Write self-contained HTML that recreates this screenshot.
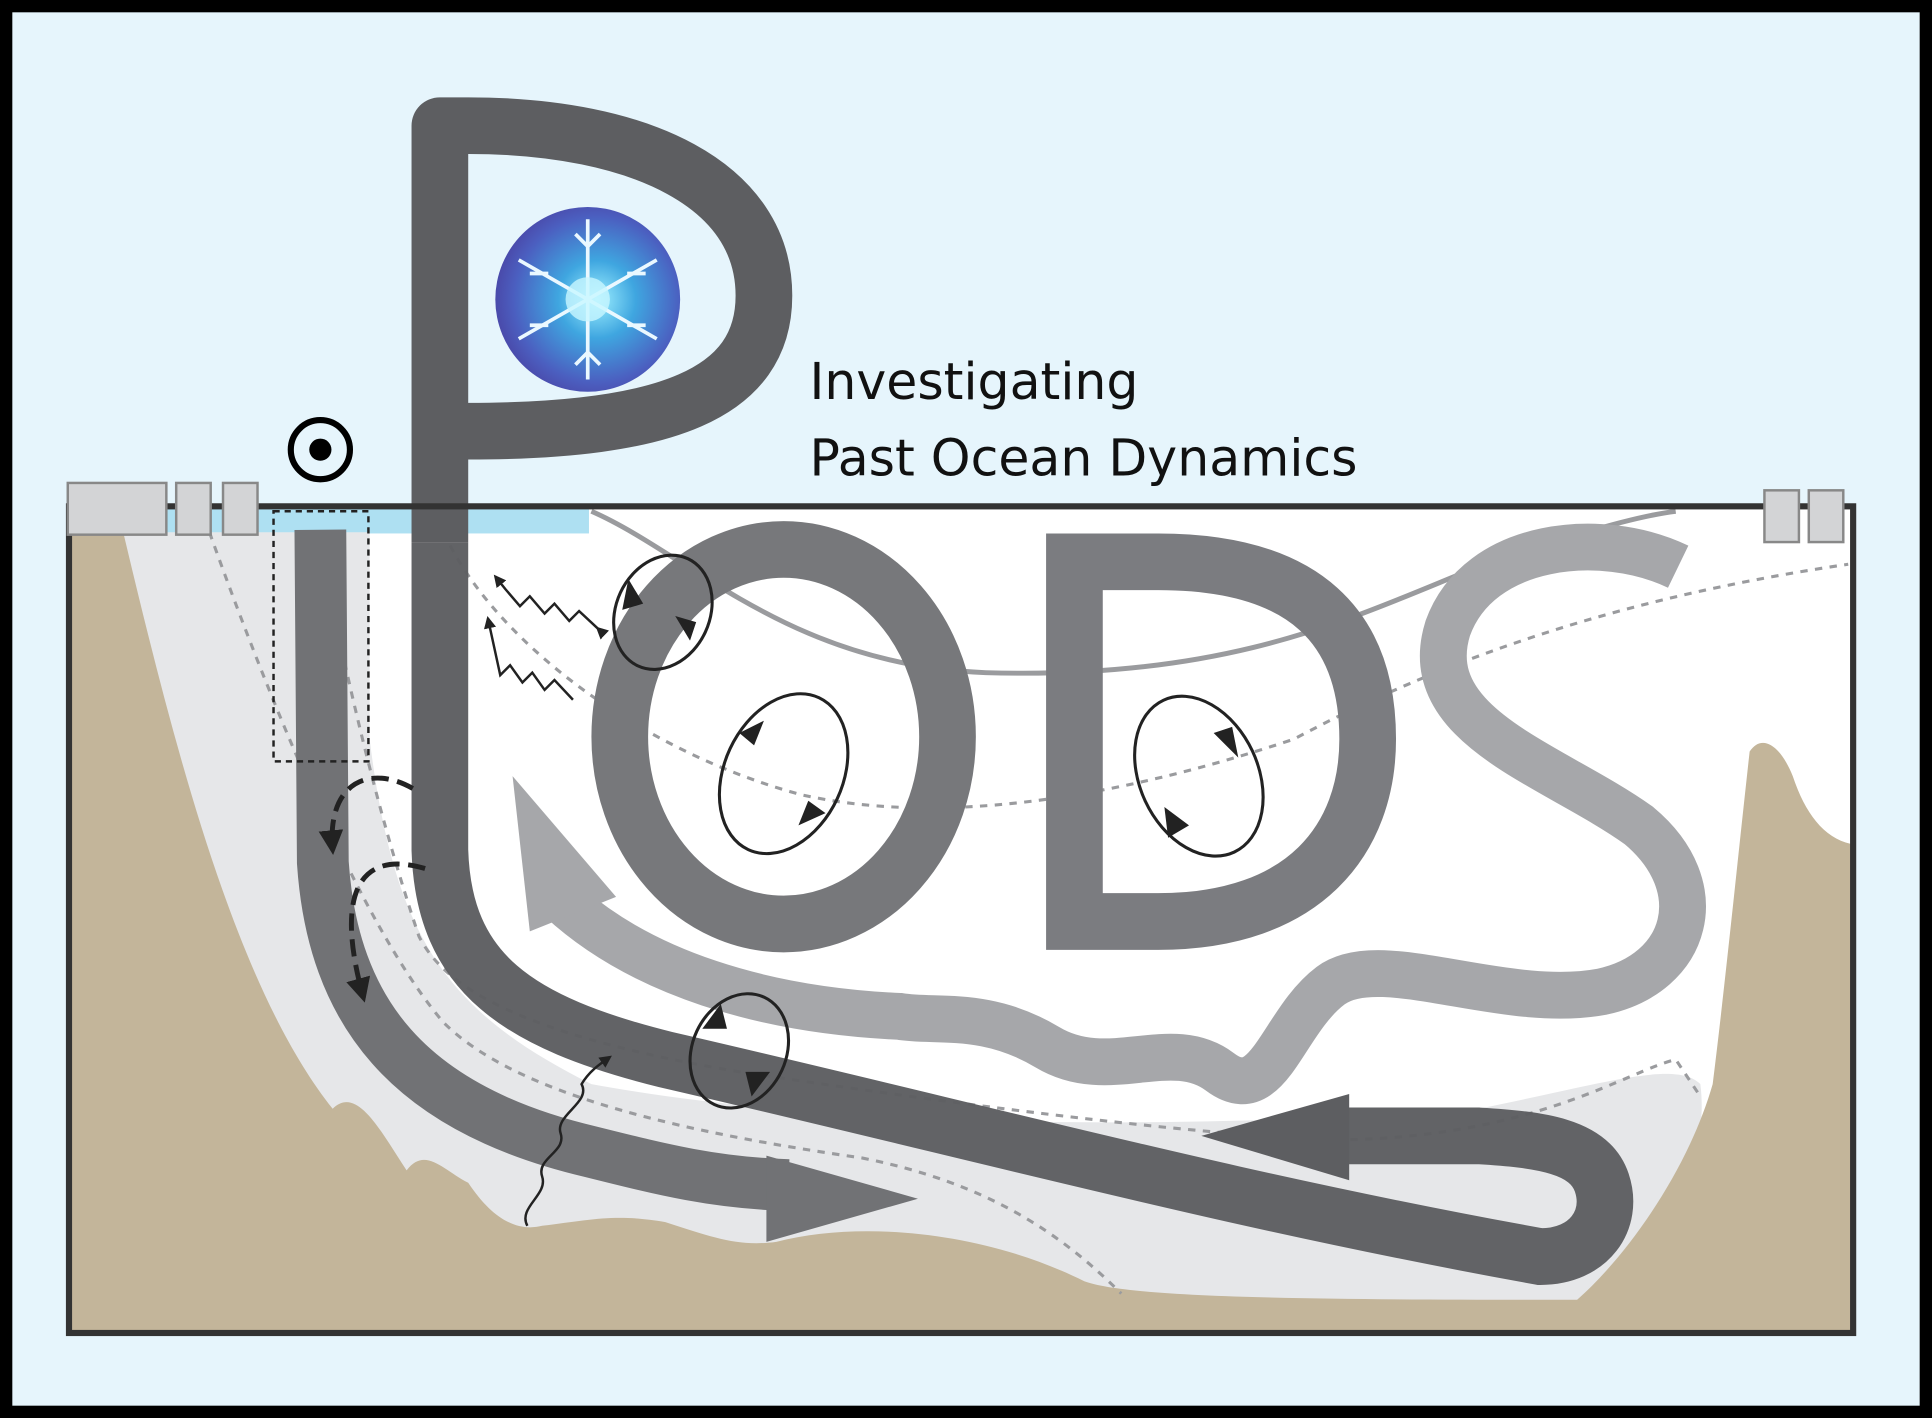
<!DOCTYPE html>
<html><head><meta charset="utf-8"><style>html,body{margin:0;padding:0;background:#000}svg{display:block}</style></head>
<body>
<svg width="1932" height="1418" viewBox="0 0 1568 1151" preserveAspectRatio="none" xmlns="http://www.w3.org/2000/svg">
<defs>
<radialGradient id="sg" cx="0.55" cy="0.5" r="0.6"><stop offset="0" stop-color="#9ef0ff"/><stop offset="0.35" stop-color="#3fa6e0"/><stop offset="0.75" stop-color="#4b5fc0"/><stop offset="1" stop-color="#4a3f9f"/></radialGradient>
<marker id="ah" viewBox="0 0 10 10" refX="8" refY="5" markerWidth="5" markerHeight="5" orient="auto"><path d="M0,0 L10,5 L0,10 z" fill="#222"/></marker>
</defs>
<rect x="0" y="0" width="1568" height="1151" fill="#000"/>
<rect x="10" y="10" width="1548" height="1131" fill="#e6f5fc"/>
<!-- ocean box -->
<rect x="56" y="411" width="1448" height="671" fill="#ffffff"/>
<rect x="56" y="413" width="422" height="20" fill="#aee0f2"/>
<!-- light gray sediment -->
<path d="M60,432 L300,432 L300,600 C320,760 360,820 480,880 C700,920 1000,915 1200,900 C1300,880 1360,860 1380,880 C1390,960 1330,1030 1290,1060 L60,1078 Z" fill="#e6e7e9"/>
<!-- seafloor -->
<path d="M58,432 L100,432 C140,600 190,800 270,900 C290,880 310,920 330,950 C345,930 360,950 380,960 C400,990 420,1000 440,995 C480,990 500,985 540,992 C580,1005 600,1012 630,1008 C700,990 800,1000 880,1040 C920,1055 1100,1055 1280,1055 C1320,1020 1370,950 1390,880 C1400,800 1410,700 1420,610 C1430,595 1445,605 1455,630 C1465,660 1480,680 1502,685 L1502,1080 L58,1080 Z" fill="#c3b59a"/>
<!-- thin gray line -->
<path d="M480,415 C560,450 640,540 800,546 C1000,552 1100,500 1200,460 C1260,440 1320,420 1360,415" fill="none" stroke="#9a9b9e" stroke-width="4"/>
<!-- dashed lines -->
<g fill="none" stroke="#9a9b9e" stroke-width="2.5" stroke-dasharray="6,6">
<path d="M170,432 C230,600 300,760 360,830 C420,890 560,920 700,940 C800,960 860,1000 910,1050"/>
<path d="M258,432 C290,600 320,700 340,760 C360,800 420,840 600,870 C800,900 1000,925 1100,925 C1250,920 1320,870 1360,860 L1380,890"/>
<path d="M360,432 C400,520 520,610 650,645 C760,670 900,650 1050,600 C1200,520 1350,480 1500,458"/>
</g>
<!-- S light band + wavy arrow -->
<path d="M1362,460 C1300,430 1200,440 1175,510 C1150,590 1260,620 1330,670 C1390,720 1370,790 1300,805 C1220,820 1120,770 1080,800 C1040,830 1030,900 990,870 C950,840 900,880 850,850 C800,820 760,830 730,825 C620,820 520,790 455,730" fill="none" stroke="#a6a7aa" stroke-width="38"/>
<polygon points="416,630 500,728 430,756" fill="#a6a7aa"/>
<!-- O -->
<ellipse cx="636" cy="598" rx="133" ry="152" fill="none" stroke="#77787b" stroke-width="46"/>
<!-- D -->
<path d="M872,456 L872,748 L940,748 C1060,748 1110,680 1110,600 C1110,510 1060,456 940,456 Z" fill="none" stroke="#7b7c80" stroke-width="46"/>
<!-- left medium band -->
<path d="M260,430 L262,700 C270,820 330,900 480,935 C540,950 580,960 640,962" fill="none" stroke="#717275" stroke-width="42"/>
<polygon points="622,938 745,973 622,1008" fill="#717275"/>
<!-- P main dark band -->
<path d="M357,440 L357,690 C360,790 420,830 540,860 C800,920 1000,975 1250,1020 C1290,1020 1310,990 1300,960 C1290,930 1250,925 1200,922 L1080,922" fill="none" stroke="#5d5e61" stroke-width="46" stroke-opacity="0.97"/>
<polygon points="1095,888 975,922 1095,958" fill="#5d5e61"/>
<!-- P top -->
<path d="M357,440 L357,102 L380,102 C520,102 620,150 620,240 C620,320 540,350 380,350" fill="none" stroke="#5d5e61" stroke-width="46" stroke-linejoin="round"/>
<!-- dashed box -->
<rect x="222" y="415" width="77" height="203" fill="none" stroke="#222" stroke-width="2" stroke-dasharray="5,4"/>
<!-- dashed arrows -->
<g fill="none" stroke="#222" stroke-width="4" stroke-dasharray="14,7">
<path d="M335,640 C300,620 265,635 270,690" marker-end="url(#ah)"/>
<path d="M345,705 C295,690 270,720 295,810" marker-end="url(#ah)"/>
</g>
<!-- eddies -->
<g fill="none" stroke="#222" stroke-width="2.5">
<ellipse cx="538" cy="497" rx="38" ry="48" transform="rotate(25 538 497)"/>
<ellipse cx="636" cy="628" rx="48" ry="68" transform="rotate(25 636 628)"/>
<ellipse cx="973" cy="630" rx="48" ry="68" transform="rotate(-25 973 630)"/>
<ellipse cx="600" cy="853" rx="38" ry="48" transform="rotate(25 600 853)"/>
</g>
<g fill="#222">
<polygon points="510,470 522,490 505,495"/><polygon points="560,520 548,500 565,505"/>
<polygon points="600,595 620,585 612,605"/><polygon points="670,660 648,670 656,650"/>
<polygon points="1005,615 985,595 1000,590"/><polygon points="945,655 965,670 948,680"/>
<polygon points="570,835 585,815 590,835"/><polygon points="625,870 610,890 605,870"/>
</g>
<!-- wavy arrows -->
<g fill="none" stroke="#222" stroke-width="2">
<path d="M485,510 L470,496 L462,504 L450,490 L442,498 L430,484 L422,492 L410,478 L402,468" marker-end="url(#ah)" marker-start="url(#ah)"/>
<path d="M465,568 L450,552 L442,560 L432,546 L424,554 L414,540 L406,548 L396,502" marker-end="url(#ah)"/>
<path d="M428,995 C420,980 445,970 440,955 C435,940 460,935 455,920 C450,905 480,895 472,880 C478,870 485,865 495,858" marker-end="url(#ah)"/>
</g>
<!-- box outline -->
<rect x="56" y="411" width="1448" height="671" fill="none" stroke="#333" stroke-width="5"/>
<!-- instruments -->
<g fill="#d3d4d6" stroke="#888" stroke-width="2">
<rect x="55" y="392" width="80" height="42"/><rect x="143" y="392" width="28" height="42"/><rect x="181" y="392" width="28" height="42"/>
<rect x="1432" y="398" width="28" height="42"/><rect x="1468" y="398" width="28" height="42"/>
</g>
<!-- target -->
<circle cx="260" cy="365" r="24" fill="none" stroke="#000" stroke-width="5"/>
<circle cx="260" cy="365" r="9" fill="#000"/>
<!-- snowflake -->
<circle cx="477" cy="243" r="75" fill="url(#sg)"/>
<g stroke="#eaf8ff" stroke-width="3" fill="none">
<path d="M477,178 L477,308 M421,211 L533,275 M421,275 L533,211"/>
<path d="M467,190 L477,200 L487,190 M467,296 L477,286 L487,296 M430,222 L445,222 M524,264 L509,264 M430,264 L445,264 M524,222 L509,222"/>
</g>
<circle cx="477" cy="243" r="18" fill="#c8f6ff" opacity="0.8"/>
<!-- text -->
<text x="657" y="324" font-family="'DejaVu Sans','Liberation Sans',sans-serif" font-size="41" fill="#111">Investigating</text>
<text x="657" y="386" font-family="'DejaVu Sans','Liberation Sans',sans-serif" font-size="41" fill="#111">Past Ocean Dynamics</text>
</svg>
</body></html>
